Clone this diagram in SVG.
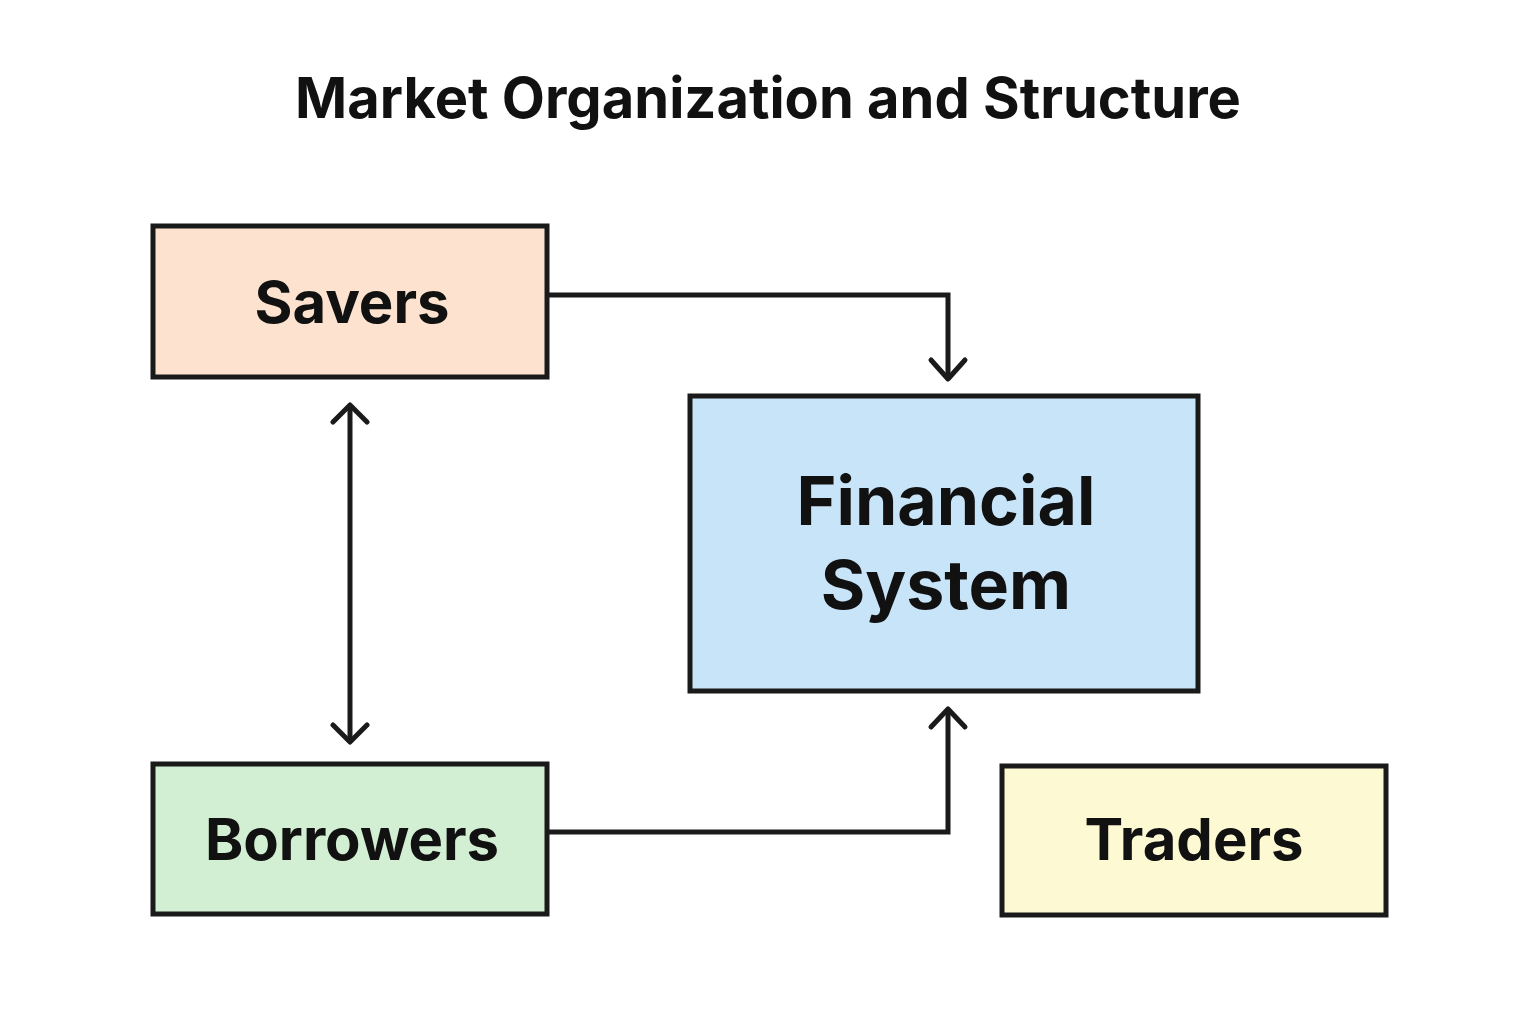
<svg xmlns="http://www.w3.org/2000/svg" width="1536" height="1024" viewBox="0 0 1536 1024">
<style>
.box{stroke:#1a1a1a;stroke-width:5}
.t{font-family:"Inter","Liberation Sans",sans-serif;font-weight:bold;fill:#111;text-anchor:middle}
.c{fill:none;stroke:#1a1a1a;stroke-width:5;stroke-linejoin:miter}
.h{fill:none;stroke:#1a1a1a;stroke-width:5;stroke-linecap:round;stroke-linejoin:round}
</style>
<rect width="1536" height="1024" fill="#fff"/>
<text class="t" x="768" y="118" font-size="56" font-weight="600">Market Organization and Structure</text>
<g id="connectors">
<path class="c" d="M547 295H948V378"/>
<path class="h" d="M931 360L948 379L965 360"/>
<path class="c" d="M350 405V742"/>
<path class="h" d="M333 422L350 405L367 422M333 725L350 742L367 725"/>
<path class="c" d="M547 832H948V710"/>
<path class="h" d="M931 727L948 709L965 727"/>
</g>
<g id="savers"><rect class="box" x="153" y="226" width="394" height="151" fill="#fde3cf"/><text class="t" x="352" y="323" font-size="58">Savers</text></g>
<g id="financial"><rect class="box" x="690" y="396" width="508" height="295" fill="#c8e4f8"/><text class="t" x="946" y="525" font-size="68">Financial</text><text class="t" x="946" y="609" font-size="68">System</text></g>
<g id="borrowers"><rect class="box" x="153" y="764" width="394" height="150" fill="#d3efd3"/><text class="t" x="352" y="860" font-size="58">Borrowers</text></g>
<g id="traders"><rect class="box" x="1002" y="766" width="384" height="149" fill="#fdf9d3"/><text class="t" x="1194" y="860" font-size="58">Traders</text></g>
</svg>
